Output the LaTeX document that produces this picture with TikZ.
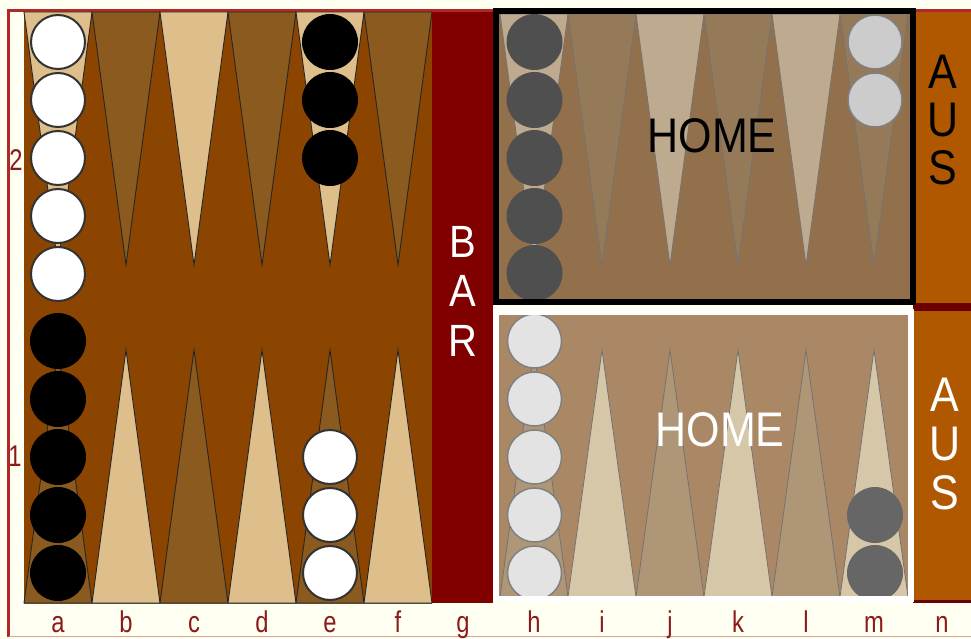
\documentclass[tikz,border=0pt]{standalone}
\usepackage{fontspec}
\setmainfont{Liberation Sans}
\usepackage{graphicx}
\definecolor{cream}{HTML}{FFFFF2}
\definecolor{framered}{HTML}{B22828}
\definecolor{framepink}{HTML}{D9A0A0}
\definecolor{boardbg}{HTML}{8B4500}
\definecolor{ptlight}{HTML}{DEBE8A}
\definecolor{ptdark}{HTML}{8B5A1E}
\definecolor{barred}{HTML}{800000}
\definecolor{homeTbg}{HTML}{93704C}
\definecolor{homeTlight}{HTML}{BEAA8E}
\definecolor{homeTdark}{HTML}{957A5A}
\definecolor{homeBbg}{HTML}{AB8865}
\definecolor{homeBlight}{HTML}{D7C7A9}
\definecolor{homeBdark}{HTML}{AF9677}
\definecolor{ausbg}{HTML}{B05800}
\definecolor{ausline}{HTML}{6B0000}
\definecolor{labelred}{HTML}{8B1A1A}
\newcommand{\stretchtxt}[1]{\scalebox{1}[1.13]{#1}}
\newcommand{\stretchlbl}[1]{\scalebox{0.95}[1.2]{#1}}
\begin{document}
\begin{tikzpicture}[x=1pt,y=-1pt,
  chk/.style={circle, inner sep=0pt, outer sep=0pt, minimum size=55pt},
  whitechk/.style={chk, fill=white, draw=black!80, line width=2pt, minimum size=54pt},
  blackchk/.style={chk, fill=black, minimum size=56pt},
  darkgreychk/.style={chk, fill=black!69, minimum size=56pt},
  lightgreychk/.style={chk, fill=black!20, draw=black!50, line width=1.5pt, minimum size=54pt},
  palechk/.style={chk, fill=black!11, draw=black!50, line width=1.5pt, minimum size=54pt},
  midgreychk/.style={chk, fill=black!60, minimum size=56pt},
  lefttri/.style={draw=black!85, line width=0.9pt},
  hometri/.style={draw=black!55, line width=0.8pt},
  bigtxt/.style={inner sep=0pt, font=\fontsize{43}{43}\selectfont},
  bartxt/.style={inner sep=0pt, text=white, font=\fontsize{40}{40}\selectfont},
  lbl/.style={inner sep=0pt, text=labelred, font=\fontsize{25}{25}\selectfont}
]
\useasboundingbox (0,0) rectangle (971,639);
\fill[cream] (0,0) rectangle (971,639);
% outer frame
\draw[framered, line width=3pt] (8.5,10.5) -- (971,10.5);
\draw[framered, line width=2.5pt] (8.5,9) -- (8.5,637);
\draw[framepink, line width=1.5pt] (8.5,636.5) -- (971,636.5);

% left board
\fill[boardbg] (24,12) rectangle (432,603);
\foreach \i/\c in {0/ptlight,1/ptdark,2/ptlight,3/ptdark,4/ptlight,5/ptdark}
  \filldraw[lefttri, fill=\c] ({24+68*\i},12) -- ({58+68*\i},265) -- ({92+68*\i},12) -- cycle;
\foreach \i/\c in {0/ptdark,1/ptlight,2/ptdark,3/ptlight,4/ptdark,5/ptlight}
  \filldraw[lefttri, fill=\c] ({24+68*\i},603) -- ({58+68*\i},350) -- ({92+68*\i},603) -- cycle;
\draw[black!70, line width=0.8pt] (24,603) -- (432,603);

% bar
\fill[barred] (432,12) rectangle (493,603);

% AUS columns
\fill[ausbg] (913,12) rectangle (971,303);
\fill[ausline] (913,303) rectangle (971,311);
\fill[ausbg] (913,311) rectangle (971,600);
\fill[ausline] (913,600) rectangle (971,603);

% top home
\fill[homeTbg] (495,12) rectangle (912,302);
\foreach \i/\c in {0/homeTlight,1/homeTdark,2/homeTlight,3/homeTdark,4/homeTlight,5/homeTdark}
  \filldraw[hometri, fill=\c] ({500+68*\i},14) -- ({534+68*\i},265) -- ({568+68*\i},14) -- cycle;

% bottom home
\fill[homeBbg] (496,311) rectangle (911,598);
\foreach \i/\c in {0/homeBdark,1/homeBlight,2/homeBdark,3/homeBlight,4/homeBdark,5/homeBlight}
  \filldraw[hometri, fill=\c] ({500+68*\i},597) -- ({534+68*\i},350) -- ({568+68*\i},597) -- cycle;

% checkers, left board
\foreach \k/\y in {1/42,2/100,3/158,4/216,5/274}
  \node[whitechk] (aT\k) at (58,\y) {};
\foreach \k/\y in {1/573,2/515,3/457,4/399,5/341}
  \node[blackchk] (aB\k) at (58,\y) {};
\foreach \k/\y in {1/42,2/100,3/158}
  \node[blackchk] (eT\k) at (330,\y) {};
\foreach \k/\y in {1/573,2/515,3/457}
  \node[whitechk] (eB\k) at (330,\y) {};
% checkers, home
\foreach \k/\y in {1/42,2/100,3/158,4/216,5/273}
  \node[darkgreychk] (hT\k) at (534.5,\y) {};
\foreach \k/\y in {1/42,2/100}
  \node[lightgreychk] (mT\k) at (875,\y) {};
\foreach \k/\y in {1/573,2/515,3/457,4/399,5/341}
  \node[palechk] (hB\k) at (534.5,\y) {};
\foreach \k/\y in {1/573,2/515}
  \node[midgreychk] (mB\k) at (875,\y) {};

% home frames
\draw[black, line width=6pt] (495.5,11.5) rectangle (913,302);
\draw[white, line width=6pt] (496,311.5) rectangle (910.5,598.5);

% texts
\node[bigtxt, text=black] (homeT) at (712,136) {\stretchtxt{HOME}};
\node[bigtxt, text=white] (homeB) at (720,430) {\stretchtxt{HOME}};
\node[bartxt] (barB) at (463,242) {\stretchtxt{B}};
\node[bartxt] (barA) at (463,291) {\stretchtxt{A}};
\node[bartxt] (barR) at (463,341) {\stretchtxt{R}};
\node[bigtxt, text=black] (ausTA) at (943,72) {\stretchtxt{A}};
\node[bigtxt, text=black] (ausTU) at (943,120) {\stretchtxt{U}};
\node[bigtxt, text=black] (ausTS) at (943,168) {\stretchtxt{S}};
\node[bigtxt, text=white] (ausBA) at (945,395) {\stretchtxt{A}};
\node[bigtxt, text=white] (ausBU) at (945,444) {\stretchtxt{U}};
\node[bigtxt, text=white] (ausBS) at (945,493) {\stretchtxt{S}};

% row labels
\node[lbl] (row2) at (16,160) {\stretchlbl{2}};
\node[lbl] (row1) at (15,456) {\stretchlbl{1}};
% column labels
\foreach \n/\x in {a/58,b/126,c/194,d/262,e/330,f/398,g/463,h/534,i/602,j/670,k/738,l/806,m/874,n/942}
  \node[lbl, anchor=base] (col\n) at (\x,632) {\stretchlbl{\n}};
\end{tikzpicture}
\end{document}
